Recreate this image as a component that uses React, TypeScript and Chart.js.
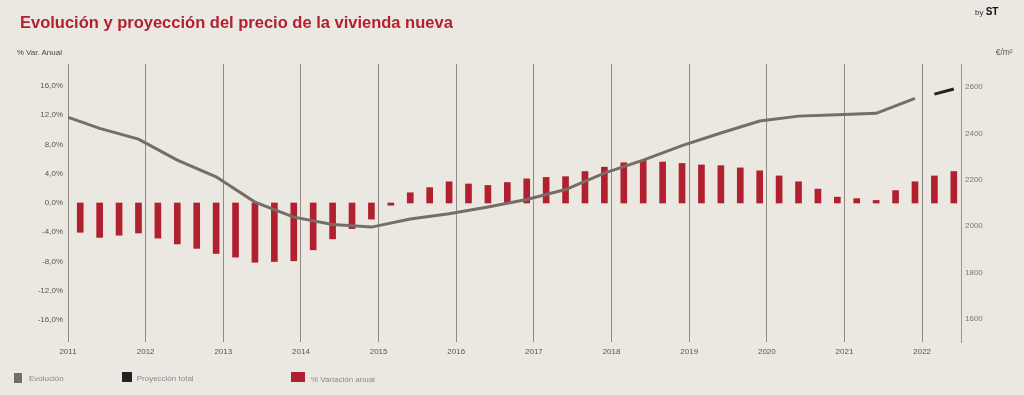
import React, { useEffect, useRef } from "react";
import { Chart, registerables } from "chart.js";

Chart.register(...registerables);

// ---------- DATA ----------
const years = [2011, 2012, 2013, 2014, 2015, 2016, 2017, 2018, 2019, 2020, 2021, 2022];

const variacionPeriodos = [
  "2011-T1", "2011-T2", "2011-T3", "2011-T4",
  "2012-T1", "2012-T2", "2012-T3", "2012-T4",
  "2013-T1", "2013-T2", "2013-T3", "2013-T4",
  "2014-T1", "2014-T2", "2014-T3", "2014-T4",
  "2015-T1", "2015-T2", "2015-T3", "2015-T4",
  "2016-T1", "2016-T2", "2016-T3", "2016-T4",
  "2017-T1", "2017-T2", "2017-T3", "2017-T4",
  "2018-T1", "2018-T2", "2018-T3", "2018-T4",
  "2019-T1", "2019-T2", "2019-T3", "2019-T4",
  "2020-T1", "2020-T2", "2020-T3", "2020-T4",
  "2021-T1", "2021-T2", "2021-T3", "2021-T4",
  "2022-T1", "2022-T2",
];

const variacionAnual = [
  -4.0, -4.7, -4.4, -4.1,
  -4.8, -5.6, -6.2, -6.9,
  -7.4, -8.1, -8.0, -7.9,
  -6.4, -4.9, -3.5, -2.2,
  -0.3, 1.4, 2.1, 2.9,
  2.6, 2.4, 2.8, 3.3,
  3.5, 3.6, 4.3, 4.9,
  5.5, 5.8, 5.6, 5.4,
  5.2, 5.1, 4.8, 4.4,
  3.7, 2.9, 1.9, 0.8,
  0.6, 0.35, 1.7, 2.9,
  3.7, 4.3,
];

const evolucionPeriodos = [
  "2010-T4",
  "2011-T2", "2011-T4", "2012-T2", "2012-T4", "2013-T2", "2013-T4",
  "2014-T2", "2014-T4", "2015-T2", "2015-T4", "2016-T2", "2016-T4",
  "2017-T2", "2017-T4", "2018-T2", "2018-T4", "2019-T2", "2019-T4",
  "2020-T2", "2020-T4", "2021-T2", "2021-T4",
];

const evolucionValores = [
  2481,
  2422, 2376, 2285, 2213, 2104, 2039,
  2007, 1996, 2031, 2054, 2083, 2115,
  2158, 2229, 2285, 2348, 2402, 2454,
  2475, 2481, 2487, 2552,
];

const proyeccionPeriodos = ["2022-T1", "2022-T2"];
const proyeccionValores = [2570, 2592];

const ticksVariacion = [-16, -12, -8, -4, 0, 4, 8, 12, 16];
const ticksPrecio = [1600, 1800, 2000, 2200, 2400, 2600];

// ---------- HELPERS ----------
function periodToX(p: string): number {
  const [y, q] = p.split("-T");
  return Number(y) + (Number(q) - 1 + 0.63) / 4;
}

const FONT = "'Liberation Sans', Arial, sans-serif";
const BG = "#ebe8e2";

export default function App() {
  const canvasRef = useRef<HTMLCanvasElement | null>(null);

  useEffect(() => {
    if (!canvasRef.current) return;
    Chart.defaults.font.family = FONT;
    const chart = new Chart(canvasRef.current, {
      type: "bar",
      data: {
        datasets: [
          {
            type: "line",
            label: "Evolución",
            data: evolucionPeriodos.map((p, i) => ({ x: periodToX(p), y: evolucionValores[i] })),
            yAxisID: "y2",
            borderColor: "#766c68",
            borderWidth: 3,
            pointRadius: 0,
            tension: 0,
            clip: 0,
            order: 0,
          } as any,
          {
            type: "line",
            label: "Proyección total",
            data: proyeccionPeriodos.map((p, i) => ({ x: periodToX(p), y: proyeccionValores[i] })),
            yAxisID: "y2",
            borderColor: "#222222",
            borderWidth: 3,
            pointRadius: 0,
            tension: 0,
            order: 0,
          } as any,
          {
            type: "bar",
            label: "% Variación anual",
            data: variacionPeriodos.map((p, i) => ({ x: periodToX(p), y: variacionAnual[i] })),
            yAxisID: "y",
            backgroundColor: "#b0202e",
            borderWidth: 0,
            barThickness: 6,
            order: 1,
          } as any,
        ],
      },
      options: {
        responsive: false,
        animation: false,
        layout: { padding: { top: 64, left: 0, right: 0, bottom: 0 } },
        plugins: {
          legend: { display: false },
          tooltip: { enabled: false },
          title: { display: false },
        },
        scales: {
          x: {
            type: "linear",
            min: 2011,
            max: 2022.5,
            offset: false,
            afterBuildTicks: (s: any) => {
              s.ticks = years.map((v) => ({ value: v }));
            },
            afterFit: (s: any) => {
              s.height = 53;
            },
            grid: { display: true, drawTicks: false, offset: false, color: "#8f8a85", lineWidth: 1 },
            border: { display: false },
            ticks: {
              padding: 5,
              color: "#555555",
              font: { size: 8, family: FONT },
              maxRotation: 0,
              autoSkip: false,
              callback: (v: any) => String(v),
            },
          },
          y: {
            type: "linear",
            position: "left",
            min: -19,
            max: 19,
            afterBuildTicks: (s: any) => {
              s.ticks = ticksVariacion.map((v) => ({ value: v }));
            },
            afterFit: (s: any) => {
              s.width = 68;
            },
            grid: { display: false, drawTicks: false },
            border: { display: false },
            ticks: {
              padding: 5,
              color: "#555555",
              font: { size: 8, family: FONT },
              callback: (v: any) => Number(v).toFixed(1).replace(".", ",") + "%",
            },
          },
          y2: {
            type: "linear",
            position: "right",
            min: 1500,
            max: 2700,
            afterBuildTicks: (s: any) => {
              s.ticks = ticksPrecio.map((v) => ({ value: v }));
            },
            afterFit: (s: any) => {
              s.width = 63;
            },
            grid: { display: false, drawTicks: false },
            border: { display: true, color: "#9a958f", width: 1 },
            ticks: {
              padding: 4,
              color: "#777777",
              font: { size: 8, family: FONT },
              callback: (v: any) => String(v),
            },
          },
        },
      } as any,
    });
    return () => chart.destroy();
  }, []);

  const abs = (extra: React.CSSProperties): React.CSSProperties => ({
    position: "absolute",
    fontFamily: FONT,
    lineHeight: 1,
    whiteSpace: "nowrap",
    margin: 0,
    ...extra,
  });

  return (
    <div style={{ position: "absolute", left: 0, top: 0, width: 1024, height: 395, background: BG, overflow: "hidden" }}>
      <canvas ref={canvasRef} width={1024} height={395} style={{ position: "absolute", left: 0, top: 0, width: 1024, height: 395 }} />
      <div style={abs({ left: 20, top: 14.3, fontSize: 16.5, fontWeight: 700, color: "#b3202f" })}>
        Evolución y proyección del precio de la vivienda nueva
      </div>
      <div style={abs({ left: 975, top: 6.5, fontSize: 10, color: "#333" })}>
        <span style={{ fontSize: 8 }}>by </span>
        <span style={{ fontWeight: 700, color: "#111" }}>ST</span>
      </div>
      <div style={abs({ left: 16.7, top: 48.7, fontSize: 8, color: "#444" })}>% Var. Anual</div>
      <div style={abs({ left: 995.7, top: 47.8, fontSize: 8.5, color: "#555" })}>€/m²</div>

      <div style={{ position: "absolute", left: 14, top: 372.5, width: 8, height: 10, background: "#766c68" }} />
      <div style={abs({ left: 29, top: 375.2, fontSize: 8, color: "#8a8a8a" })}>Evolución</div>
      <div style={{ position: "absolute", left: 122, top: 372, width: 10, height: 10, background: "#222222" }} />
      <div style={abs({ left: 136.7, top: 375.2, fontSize: 8, color: "#8a8a8a" })}>Proyección total</div>
      <div style={{ position: "absolute", left: 291, top: 371.5, width: 14, height: 10, background: "#b0202e" }} />
      <div style={abs({ left: 311, top: 376, fontSize: 8, color: "#8a8a8a" })}>% Variación anual</div>
    </div>
  );
}
